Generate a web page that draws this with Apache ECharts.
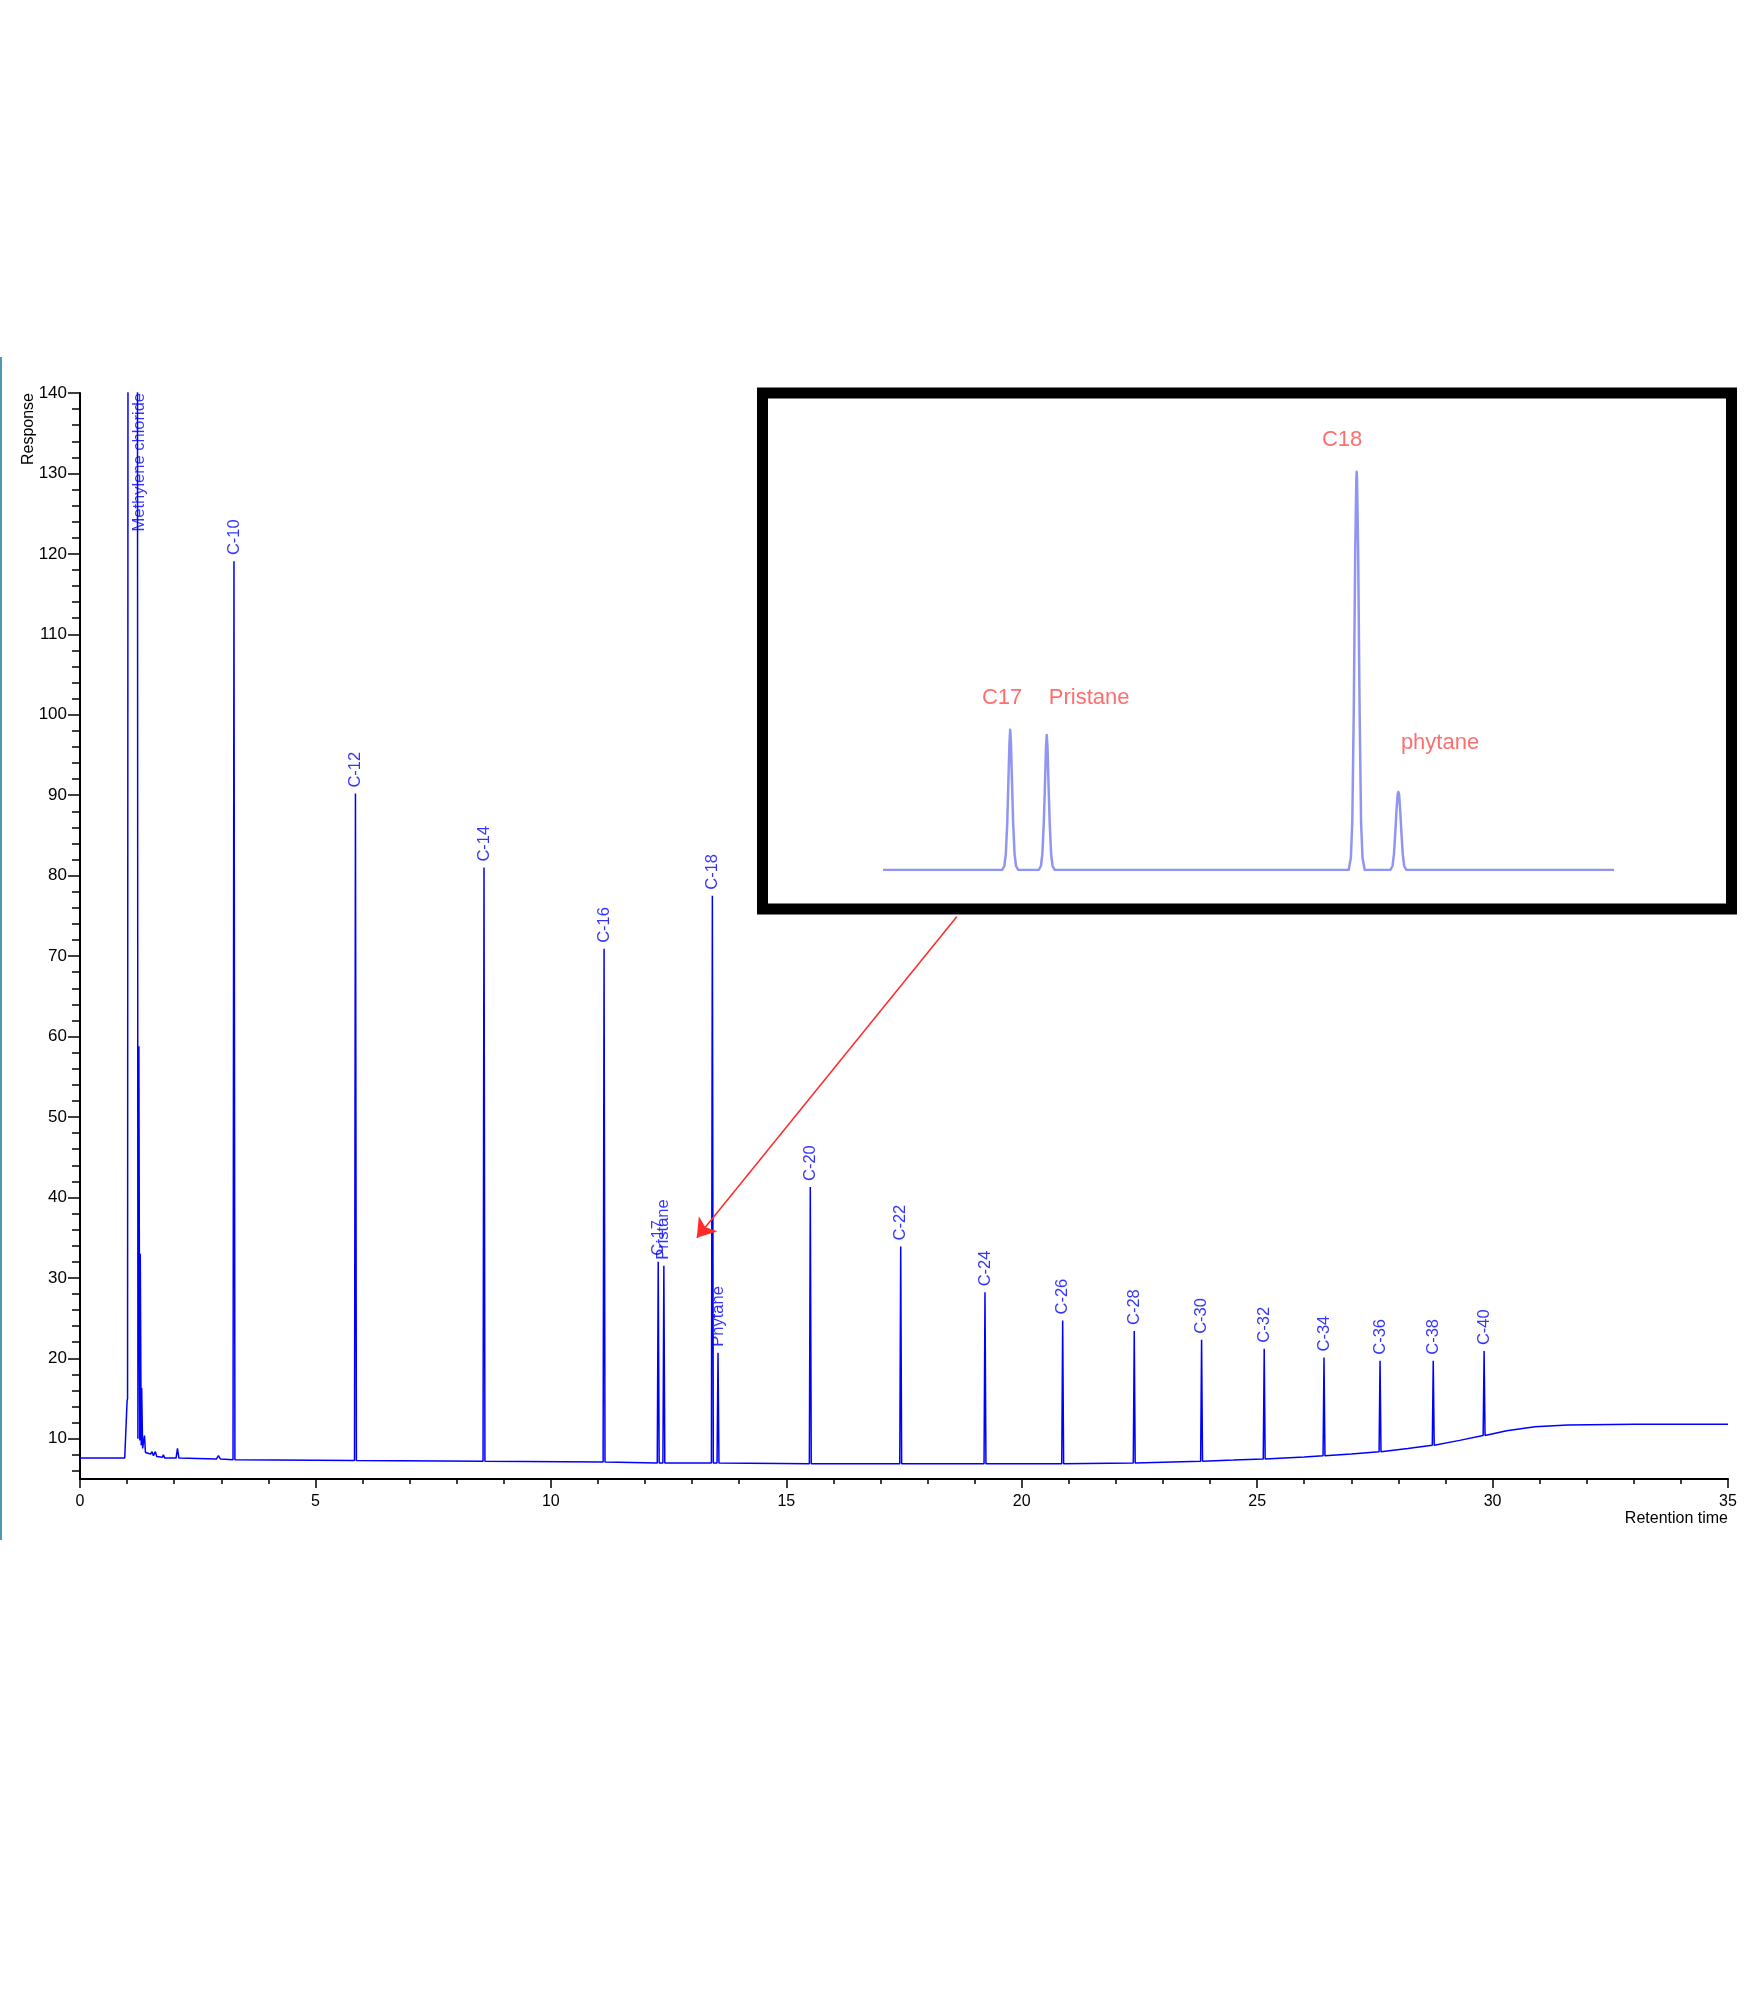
<!DOCTYPE html>
<html><head><meta charset="utf-8">
<script src="https://cdn.jsdelivr.net/npm/echarts@6/dist/echarts.min.js"></script>
<style>html,body{margin:0;padding:0;background:#fff}#c{width:1750px;height:2000px}</style>
</head><body><div id="c"></div>
<script>
// Main chromatogram trace: [retention time, response]
const trace = [
 [0,7.6],[0.95,7.6],[0.98,7.7],[1.0,14.7],[1.01,15.0],[1.03,300],[1.21,300],[1.23,10.0],[1.25,58.8],[1.27,9.8],[1.28,33.0],[1.30,9.2],[1.31,16.3],[1.33,8.8],[1.37,10.4],[1.39,8.3],[1.50,8.1],[1.53,8.4],[1.56,7.9],[1.60,8.4],[1.63,7.8],[1.75,7.7],[1.77,8.0],[1.80,7.6],[2.04,7.6],[2.07,8.8],[2.10,7.6],[2.90,7.5],[2.94,7.9],[2.98,7.5],
 [3.25,7.4],[3.27,119.1],[3.29,7.4],
 [5.83,7.3],[5.85,90.2],[5.87,7.3],
 [8.56,7.2],[8.58,81.0],[8.60,7.2],
 [11.11,7.1],[11.13,70.9],[11.15,7.1],
 [12.26,7.0],[12.28,32.0],[12.30,7.0],[12.38,7.0],[12.40,31.5],[12.42,7.0],
 [13.41,7.0],[13.43,77.5],[13.45,7.0],[13.53,7.0],[13.55,20.7],[13.57,7.0],
 [15.49,6.9],[15.51,41.3],[15.53,6.9],
 [17.41,6.9],[17.43,33.9],[17.45,6.9],
 [19.20,6.9],[19.22,28.2],[19.24,6.9],
 [20.85,6.9],[20.87,24.7],[20.89,6.9],
 [22.37,7.0],[22.39,23.4],[22.41,7.0],
 [23.80,7.2],[23.82,22.3],[23.84,7.2],
 [24.5,7.35],
 [25.13,7.5],[25.15,21.2],[25.17,7.5],
 [26.0,7.75],
 [26.40,7.9],[26.42,20.1],[26.44,7.9],
 [27.0,8.1],
 [27.59,8.4],[27.61,19.7],[27.63,8.4],
 [28.2,8.8],
 [28.72,9.2],[28.74,19.7],[28.76,9.2],
 [29.3,9.8],
 [29.80,10.4],[29.82,20.9],[29.84,10.4],
 [30.3,11.0],[30.9,11.5],[31.6,11.7],[33.0,11.8],[35.0,11.8]
];

// Peak annotations
const peakNames = ['C-10','C-12','C-14','C-16','C-17','Pristane','C-18','Phytane','C-20','C-22','C-24','C-26','C-28','C-30','C-32','C-34','C-36','C-38','C-40'];
const peakTimes = [3.27,5.85,8.58,11.13,12.28,12.40,13.43,13.55,15.51,17.43,19.22,20.87,22.39,23.82,25.15,26.42,27.61,28.74,29.82];
const peakHeights = [119.1,90.2,81.0,70.9,32.0,31.5,77.5,20.7,41.3,33.9,28.2,24.7,23.4,22.3,21.2,20.1,19.7,19.7,20.9];
const solventName = 'Methylene chloride';
const solventLabelAt = [1.27, 140];

// Axis ticks
const xMin = 0, xMax = 35, xStep = 5;
const yMin = 5, yMax = 140;
const yMajorTicks = [10,20,30,40,50,60,70,80,90,100,110,120,130,140];
const yMinorTicks = [6,8,12,14,16,18,22,24,26,28,32,34,36,38,42,44,46,48,52,54,56,58,62,64,66,68,72,74,76,78,82,84,86,88,92,94,96,98,102,104,106,108,112,114,116,118,122,124,126,128,132,134,136,138];

// Arrow from inset to C17/C18 region (data coords)
const arrowFrom = [18.62, 74.9];
const arrowTo = [13.10, 35.0];

// Inset (zoomed view) trace, arbitrary units
const insetTrace = [
 [0,0],[16.3,0],[16.6,1],[16.8,4],[17.0,12],[17.15,22],[17.3,32],[17.4,35.2],[17.5,32],[17.65,22],[17.8,12],[18.0,4],[18.2,1],[18.5,0],
 [21.3,0],[21.6,1],[21.8,4],[22.0,12],[22.15,21],[22.3,31],[22.4,33.9],[22.5,31],[22.65,21],[22.8,12],[23.0,4],[23.2,1],[23.5,0],
 [63.7,0],[64.0,3],[64.2,12],[64.4,40],[64.6,80],[64.75,98],[64.8,100],[64.85,98],[65.0,80],[65.2,40],[65.4,12],[65.6,3],[65.9,0],
 [69.4,0],[69.7,1],[69.9,4],[70.1,10],[70.25,15],[70.4,19],[70.5,19.6],[70.6,19],[70.75,15],[70.9,10],[71.1,4],[71.3,1],[71.6,0],[100,0]
];
const insetLabelNames = ['C17','Pristane','C18','phytane'];
const insetLabelX = [16.3,28.2,62.8,76.2];
const insetLabelY = [43.2,43.2,108.0,31.9];

const FONT = '"Liberation Sans", Arial, sans-serif';
const chart = echarts.init(document.getElementById('c'), null, {renderer:'canvas'});

const labelData = peakNames.map((n,i)=>({value:[peakTimes[i], peakHeights[i], n]}));
labelData.unshift({value:[solventLabelAt[0], solventLabelAt[1], solventName], label:{align:'right', distance:0}});

chart.setOption({
  animation:false,
  backgroundColor:'#ffffff',
  grid:[
    {left:80, right:22, top:393, bottom:521, containLabel:false, outerBoundsMode:'none'},
    {left:883, right:136, top:432, bottom:1130, containLabel:false, outerBoundsMode:'none'}
  ],
  xAxis:[
    {type:'value', gridIndex:0, min:xMin, max:xMax, interval:xStep,
     axisLine:{onZero:false, lineStyle:{color:'#000', width:2}},
     axisTick:{length:9, lineStyle:{color:'#000', width:1.5}},
     minorTick:{show:true, splitNumber:5, length:5, lineStyle:{color:'#000', width:1.5}},
     axisLabel:{color:'#000', fontSize:16, fontFamily:FONT, margin:15},
     splitLine:{show:false}},
    {type:'value', gridIndex:1, min:0, max:100, show:false}
  ],
  yAxis:[
    {type:'value', gridIndex:0, min:yMin, max:yMax, position:'left',
     axisLine:{show:true, onZero:false, lineStyle:{color:'#000', width:2}},
     axisTick:{show:true, length:12, customValues:yMajorTicks, lineStyle:{color:'#000', width:1.5}},
     axisLabel:{customValues:yMajorTicks, color:'#000', fontSize:17, fontFamily:FONT, margin:13},
     splitLine:{show:false}},
    {type:'value', gridIndex:0, min:yMin, max:yMax, position:'left',
     axisLine:{show:false},
     axisTick:{show:true, length:8, customValues:yMinorTicks, lineStyle:{color:'#000', width:1.5}},
     axisLabel:{show:false}, splitLine:{show:false}},
    {type:'value', gridIndex:1, min:0, max:110, show:false}
  ],
  graphic:[
    {type:'line', z:1, shape:{x1:1, y1:357, x2:1, y2:1540}, style:{stroke:'#4f97b3', lineWidth:2}},
    {type:'rect', z:1, shape:{x:762.5, y:393, width:969, height:516}, style:{fill:'#ffffff', stroke:'#000', lineWidth:11}},
    {type:'text', x:29, y:393, rotation:Math.PI/2, style:{text:'Response', fill:'#000', fontSize:16, fontFamily:FONT, align:'right', verticalAlign:'middle'}},
    {type:'text', x:1728, y:1519, style:{text:'Retention time', fill:'#000', fontSize:16, fontFamily:FONT, align:'right', verticalAlign:'middle'}}
  ],
  series:[
    {type:'line', xAxisIndex:0, yAxisIndex:0, data:trace, showSymbol:false, symbol:'none', clip:true,
     lineStyle:{color:'#0000ff', width:1.5}, z:3,
     markLine:{silent:true, symbol:['none','arrow'], symbolSize:18,
       lineStyle:{color:'#ff2a2a', width:1.5, type:'solid'}, label:{show:false},
       data:[[{coord:arrowFrom},{coord:arrowTo}]]}},
    {type:'scatter', xAxisIndex:0, yAxisIndex:0, data:labelData, symbolSize:0.01,
     itemStyle:{color:'rgba(0,0,0,0)'}, z:4,
     label:{show:true, position:'top', distance:6, rotate:90, align:'left', verticalAlign:'middle',
       color:'#0000ff', fontSize:16.5, fontFamily:FONT, formatter:p=>p.value[2]}},
    {type:'line', xAxisIndex:1, yAxisIndex:2, data:insetTrace, showSymbol:false, symbol:'none', z:10,
     lineStyle:{color:'#7c82ee', width:2.5, opacity:0.85, join:'round'}},
    {type:'scatter', xAxisIndex:1, yAxisIndex:2, z:11,
     data:insetLabelNames.map((n,i)=>({value:[insetLabelX[i], insetLabelY[i], n]})),
     symbolSize:0.01, itemStyle:{color:'rgba(0,0,0,0)'},
     label:{show:true, position:'inside', align:'center', verticalAlign:'middle',
       color:'#ff4a4a', fontSize:22, fontFamily:FONT, formatter:p=>p.value[2]}}
  ]
});
</script>
</body></html>
